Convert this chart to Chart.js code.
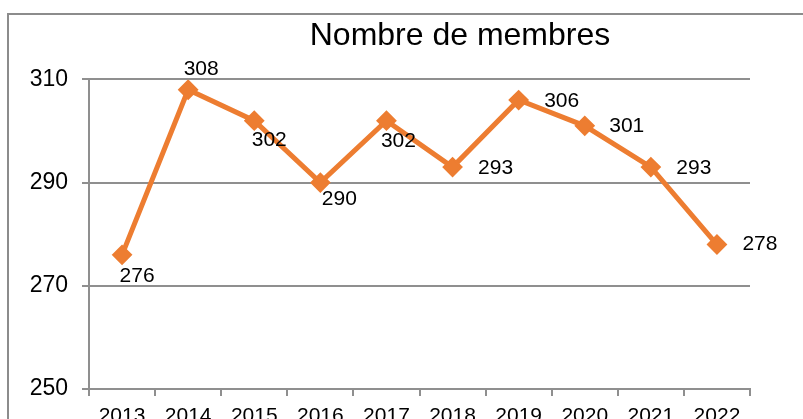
<!DOCTYPE html>
<html>
<head>
<meta charset="utf-8">
<script src="https://cdn.jsdelivr.net/npm/chart.js@4/dist/chart.umd.min.js"></script>
<style>
  html, body { margin: 0; padding: 0; background: #fff; overflow: hidden; width: 803px; height: 419px; }
  #wrap { position: absolute; left: 7px; top: 13px; width: 902px; height: 440px; border: 2px solid #8c8c8c; background: #fff; }
  canvas { display: block; }
</style>
</head>
<body>
<div id="wrap"><canvas id="c" width="902" height="440"></canvas></div>
<script>
// ---- data ----
const categories = ['2013', '2014', '2015', '2016', '2017', '2018', '2019', '2020', '2021', '2022'];
const membres = [276, 308, 302, 290, 302, 293, 306, 301, 293, 278];
const yTicks = [250, 270, 290, 310];
const titleText = 'Nombre de membres';

// label offsets (relative to each point), style only
const labelDx = [15, 13, 15, 19, 12, 43, 43, 42, 43, 43];
const labelDy = [21, -21, 20, 17, 21, 1, 1, 0, 1, 0];

const FONT = 'Liberation Sans, Arial, sans-serif';
const ORANGE = '#ED7D31';
const GRID = '#8f8f8f';

const dataLabels = {
  id: 'dataLabels',
  afterDatasetsDraw(chart) {
    const ctx = chart.ctx;
    const meta = chart.getDatasetMeta(0);
    ctx.save();
    ctx.font = '21px ' + FONT;
    ctx.fillStyle = '#000';
    ctx.textAlign = 'center';
    ctx.textBaseline = 'middle';
    meta.data.forEach((pt, i) => {
      ctx.fillText(String(membres[i]), pt.x + labelDx[i], pt.y + labelDy[i]);
    });
    ctx.restore();
  }
};

new Chart(document.getElementById('c'), {
  type: 'line',
  data: {
    labels: categories,
    datasets: [{
      data: membres,
      borderColor: ORANGE,
      backgroundColor: ORANGE,
      borderWidth: 5,
      pointStyle: 'rectRot',
      pointRadius: 9,
      pointBorderWidth: 2,
      pointBackgroundColor: ORANGE,
      pointBorderColor: ORANGE,
      tension: 0,
      fill: false
    }]
  },
  options: {
    responsive: false,
    animation: false,
    layout: { padding: 0 },
    plugins: {
      legend: { display: false },
      tooltip: { enabled: false },
      title: {
        display: true,
        text: titleText,
        color: '#000',
        font: { family: FONT, size: 32, weight: 'normal', lineHeight: 1.2 },
        padding: { top: 2, bottom: 24 }
      }
    },
    scales: {
      x: {
        type: 'category',
        offset: true,
        grid: { display: true, drawOnChartArea: false, drawTicks: true, tickLength: 7, offset: true, color: GRID, lineWidth: 2 },
        border: { display: true, color: GRID, width: 2 },
        ticks: { color: '#000', font: { family: FONT, size: 21 }, padding: 8, maxRotation: 0, autoSkip: false },
        afterFit: s => { s.height = 66; }
      },
      y: {
        position: 'left',
        min: 250,
        max: 310,
        afterBuildTicks: s => { s.ticks = yTicks.map(v => ({ value: v })); },
        grid: { color: GRID, lineWidth: 2, drawTicks: true, tickLength: 7 },
        border: { display: true, color: GRID, width: 2 },
        ticks: { color: '#000', font: { family: FONT, size: 23 }, padding: 14 },
        afterFit: s => { s.width = 80; }
      },
      y2: {
        position: 'right',
        display: true,
        grid: { display: false, drawTicks: false },
        border: { display: false },
        ticks: { display: false },
        afterFit: s => { s.width = 161; }
      }
    }
  },
  plugins: [dataLabels]
});
</script>
</body>
</html>
